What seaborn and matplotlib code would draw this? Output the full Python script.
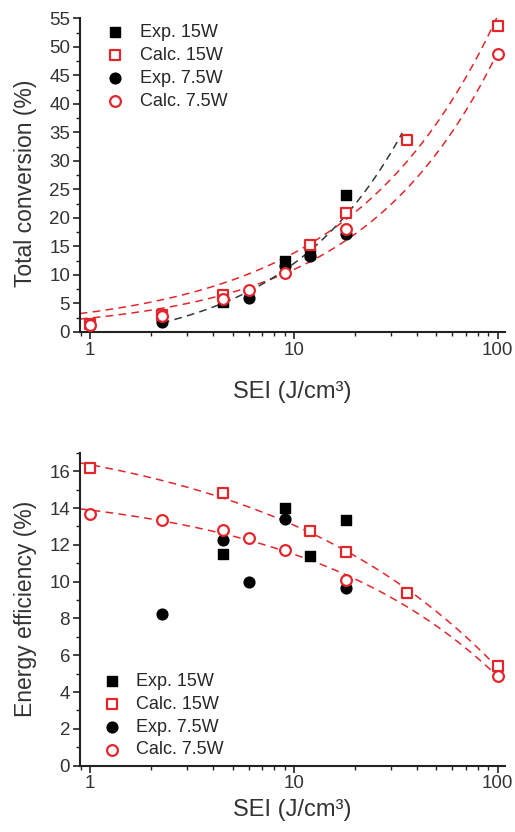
import numpy as np
import matplotlib
matplotlib.use("Agg")
import matplotlib.pyplot as plt
from matplotlib.ticker import (LogLocator, FixedLocator, FixedFormatter,
                               MultipleLocator, NullFormatter)
import seaborn as sns

sns.set_theme(style="ticks")
plt.rcParams['font.family'] = ['Liberation Sans', 'DejaVu Sans']

RED = "#e3262b"
FIT_DARK = "#2e3b36"

# ---- Total conversion (%) vs SEI ----
conv_exp15_x = [4.5, 9, 12, 18]
conv_exp15_y = [5.2, 12.5, 13.6, 24.0]
conv_calc15_x = [1, 2.25, 4.5, 12, 18, 36, 100]
conv_calc15_y = [1.4, 3.0, 6.5, 15.3, 20.9, 33.7, 53.7]
conv_exp75_x = [2.25, 6, 9, 12, 18]
conv_exp75_y = [1.7, 5.9, 11.5, 13.3, 17.2]
conv_calc75_x = [1, 2.25, 4.5, 6, 9, 18, 100]
conv_calc75_y = [1.3, 2.8, 5.8, 7.3, 10.4, 18.0, 48.7]

# ---- Energy efficiency (%) vs SEI ----
eff_exp15_x = [4.5, 9, 12, 18]
eff_exp15_y = [11.5, 14.0, 11.4, 13.35]
eff_calc15_x = [1, 4.5, 12, 18, 36, 100]
eff_calc15_y = [16.2, 14.8, 12.75, 11.6, 9.4, 5.4]
eff_exp75_x = [2.25, 4.5, 6, 9, 18]
eff_exp75_y = [8.25, 12.25, 10.0, 13.4, 9.65]
eff_calc75_x = [1, 2.25, 4.5, 6, 9, 18, 100]
eff_calc75_y = [13.7, 13.35, 12.8, 12.4, 11.7, 10.1, 4.9]


def power_fit(xs, ys, offset=True):
    # y = a + b * x**c (or b * x**c), least squares over a grid of exponents
    xs, ys = np.asarray(xs, float), np.asarray(ys, float)
    best = None
    for c in np.linspace(0.05, 2.0, 400):
        cols = [np.ones_like(xs), xs ** c] if offset else [xs ** c]
        A = np.column_stack(cols)
        coef, *_ = np.linalg.lstsq(A, ys, rcond=None)
        sse = np.sum((A @ coef - ys) ** 2)
        if best is None or sse < best[0]:
            best = (sse, coef, c)
    _, coef, c = best
    a, b = (coef[0], coef[1]) if offset else (0.0, coef[0])
    return lambda x: a + b * x ** c


def fit_curve(ax, xs, ys, lo, hi, color, offset=True):
    f = power_fit(xs, ys, offset)
    grid = np.geomspace(lo, hi, 200)
    sns.lineplot(x=grid, y=f(grid), ax=ax, color=color,
                 linewidth=1.1, linestyle=(0, (5, 3.5)),
                 legend=False, zorder=1)


def markers(ax, x, y, marker, filled, color, label):
    if filled:
        sns.scatterplot(x=x, y=y, ax=ax, marker=marker, s=60, color=color,
                        edgecolor=color, linewidth=1.0, label=label, zorder=3)
    else:
        sns.scatterplot(x=x, y=y, ax=ax, marker=marker, s=60, facecolor="white",
                        edgecolor=color, linewidth=1.6, label=label, zorder=4)


def style_axis(ax, ylim, ymajor, yminor, xpad):
    ax.set_xscale("log")
    ax.set_xlim(0.89, 109)
    ax.set_ylim(*ylim)
    ax.xaxis.set_major_locator(FixedLocator([1, 10, 100]))
    ax.xaxis.set_major_formatter(FixedFormatter(["1", "10", "100"]))
    ax.xaxis.set_minor_locator(LogLocator(base=10, subs=np.arange(2, 10)))
    ax.xaxis.set_minor_formatter(NullFormatter())
    ax.yaxis.set_major_locator(MultipleLocator(ymajor))
    ax.yaxis.set_minor_locator(MultipleLocator(yminor))
    ax.tick_params(which="major", direction="out", length=5, width=1.2,
                   labelsize=13.5, color="#222222", labelcolor="#333333", pad=2)
    ax.tick_params(which="minor", direction="out", length=3, width=1.0,
                   color="#222222")
    for side in ("top", "right"):
        ax.spines[side].set_visible(False)
    for side in ("left", "bottom"):
        ax.spines[side].set_linewidth(1.5)
        ax.spines[side].set_color("#222222")
    ax.set_xlabel("SEI (J/cm³)", fontsize=17, color="#333333", labelpad=xpad)


def add_legend(ax, **kw):
    ax.legend(frameon=False, fontsize=13, handletextpad=0.35,
              labelspacing=0.33, borderaxespad=0, **kw)


fig = plt.figure(figsize=(5.15, 8.32), dpi=100)

# top panel
ax1 = fig.add_axes([0.155, 0.601, 0.826, 0.377])
fit_curve(ax1, conv_calc15_x, conv_calc15_y, 0.89, 100, RED, offset=False)
fit_curve(ax1, conv_calc75_x, conv_calc75_y, 0.89, 100, RED, offset=False)
fit_curve(ax1, conv_exp15_x + conv_exp75_x, conv_exp15_y + conv_exp75_y,
          2.25, 34, FIT_DARK)
markers(ax1, conv_exp15_x, conv_exp15_y, "s", True, "black", "Exp. 15W")
markers(ax1, conv_calc15_x, conv_calc15_y, "s", False, RED, "Calc. 15W")
markers(ax1, conv_exp75_x, conv_exp75_y, "o", True, "black", "Exp. 7.5W")
markers(ax1, conv_calc75_x, conv_calc75_y, "o", False, RED, "Calc. 7.5W")
style_axis(ax1, (0, 55), 5, 2.5, xpad=16)
ax1.set_ylabel("Total conversion (%)", fontsize=16.5, color="#333333")
ax1.yaxis.set_label_coords(-0.101, 0.474)
add_legend(ax1, loc="upper left", bbox_to_anchor=(0.024, 1.005))

# bottom panel
ax2 = fig.add_axes([0.155, 0.0797, 0.826, 0.376])
fit_curve(ax2, eff_calc15_x, eff_calc15_y, 0.89, 100, RED)
fit_curve(ax2, eff_calc75_x, eff_calc75_y, 0.89, 100, RED)
markers(ax2, eff_exp15_x, eff_exp15_y, "s", True, "black", "Exp. 15W")
markers(ax2, eff_calc15_x, eff_calc15_y, "s", False, RED, "Calc. 15W")
markers(ax2, eff_exp75_x, eff_exp75_y, "o", True, "black", "Exp. 7.5W")
markers(ax2, eff_calc75_x, eff_calc75_y, "o", False, RED, "Calc. 7.5W")
style_axis(ax2, (0, 17), 2, 1, xpad=4.5)
ax2.set_ylabel("Energy efficiency (%)", fontsize=16.5, color="#333333")
ax2.yaxis.set_label_coords(-0.101, 0.5)
add_legend(ax2, loc="lower left", bbox_to_anchor=(0.016, 0.0))

fig.savefig("out.png", dpi=100)
